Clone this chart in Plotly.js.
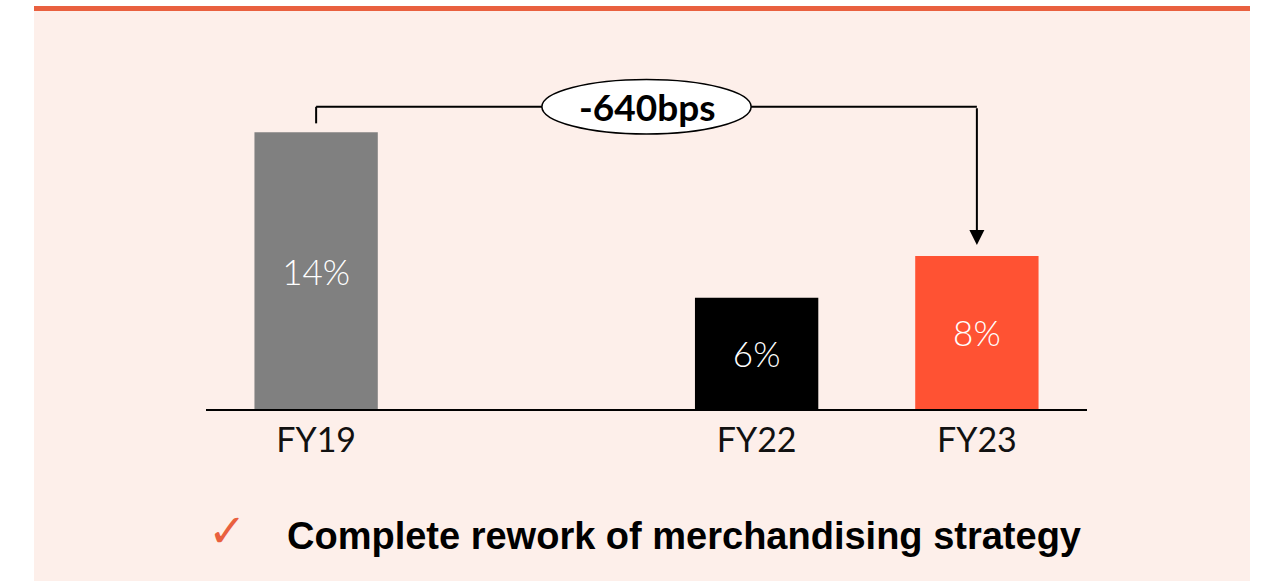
<!DOCTYPE html>
<html>
<head>
<meta charset="utf-8">
<script src="https://cdn.plot.ly/plotly-3.0.1.min.js"></script>
<style>
  html, body { margin: 0; padding: 0; background: #ffffff; width: 1267px; height: 581px; overflow: hidden; }
  #panel { position: absolute; left: 34px; top: 6px; width: 1216px; height: 575px; background: #FDEFEA; border-top: 5px solid #E9603F; box-sizing: border-box; }
  #chart { position: absolute; left: 0; top: 0; width: 1216px; height: 570px; }
</style>
</head>
<body>
<div id="panel"><div id="chart"></div></div>
<script>
// Data
const categories = ["FY19", " ", "FY22", "FY23"];
const values = [14.2, null, 5.7, 7.85];
const labels = ["14%", "", "6%", "8%"];
const barColors = ["#808080", "rgba(0,0,0,0)", "#000000", "#FF5233"];
const changeLabel = "-640bps";
const footnote = "Complete rework of merchandising strategy";

const fromIdx = 0, toIdx = 3;
const bracketY = values[fromIdx] + 1.3;
const legBottom = values[fromIdx] + 0.45;
const arrowTip = values[toIdx] + 0.56;
const midX = (fromIdx + toIdx) / 2;

const trace = {
  type: "bar",
  x: categories,
  y: values,
  text: labels,
  textposition: "inside",
  insidetextanchor: "middle",
  constraintext: "none",
  textfont: { family: "Lato, 'Open Sans', sans-serif", size: 35, color: "#ffffff", weight: 300 },
  marker: { color: barColors, line: { width: 0 } },
  hoverinfo: "skip",
  cliponaxis: false
};

const layout = {
  width: 1216,
  height: 570,
  margin: { l: 172, r: 163, t: 10, b: 172 },
  paper_bgcolor: "rgba(0,0,0,0)",
  plot_bgcolor: "rgba(0,0,0,0)",
  showlegend: false,
  bargap: 0.44,
  xaxis: {
    type: "category",
    categoryorder: "array",
    categoryarray: categories,
    showline: true,
    linecolor: "#000000",
    linewidth: 2,
    ticks: "",
    showgrid: false,
    zeroline: false,
    tickfont: { family: "Lato, 'Open Sans', sans-serif", size: 34, color: "#111111" },
    fixedrange: true
  },
  yaxis: {
    range: [0, 19.9],
    visible: false,
    fixedrange: true
  },
  shapes: [
    { type: "line", xref: "x", yref: "y", x0: fromIdx, x1: fromIdx, y0: legBottom, y1: bracketY, line: { color: "#000000", width: 2 } },
    { type: "line", xref: "x", yref: "y", x0: fromIdx, x1: toIdx, y0: bracketY, y1: bracketY, line: { color: "#000000", width: 2 } },
    { type: "circle", xref: "x", yref: "y", x0: midX - 0.475, x1: midX + 0.475, y0: bracketY - 1.4, y1: bracketY + 1.4, fillcolor: "#ffffff", line: { color: "#000000", width: 1.5 } }
  ],
  annotations: [
    { x: toIdx, y: arrowTip, ax: toIdx, ay: bracketY, xref: "x", yref: "y", axref: "x", ayref: "y",
      text: "", showarrow: true, arrowhead: 2, arrowsize: 1.5, arrowwidth: 2, arrowcolor: "#000000", standoff: 0 },
    { x: midX, y: bracketY, xref: "x", yref: "y", text: "<b>" + changeLabel + "</b>", showarrow: false,
      font: { family: "Lato, 'Open Sans', sans-serif", size: 37, color: "#000000" }, xanchor: "center", yanchor: "middle" },
    { x: (227 - 206) / 881, y: (409 - 531) / 388, xref: "paper", yref: "paper", text: "✓", showarrow: false,
      font: { family: "DejaVu Sans, sans-serif", size: 46, color: "#E9603F" }, xanchor: "center", yanchor: "middle" },
    { x: (285 - 206) / 881, y: (409 - 536) / 388, xref: "paper", yref: "paper", text: "<b>" + footnote + "</b>", showarrow: false,
      font: { family: "'Liberation Sans', Arial, sans-serif", size: 38, color: "#000000" }, xanchor: "left", yanchor: "middle" }
  ]
};

Plotly.newPlot("chart", [trace], layout, { displayModeBar: false, staticPlot: true });
</script>
</body>
</html>
